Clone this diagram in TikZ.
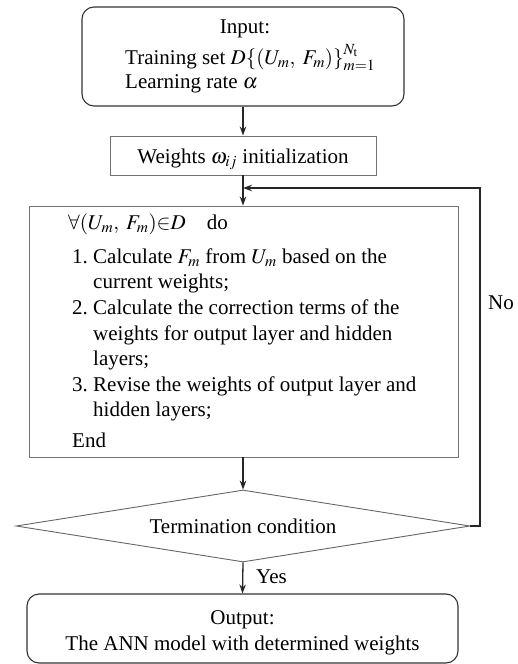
\documentclass[tikz,border=0pt]{standalone}
\usepackage{mathptmx}
\usepackage{fontspec}
\setmainfont{Liberation Serif}
\usetikzlibrary{arrows.meta,shapes.geometric}
\tikzset{
  rbox/.style={draw=black!80,line width=1.1pt,rounded corners=12pt,inner sep=0pt},
  gbox/.style={draw=black!55,line width=0.9pt,inner sep=0pt},
  cond/.style={draw=black!60,line width=0.9pt,diamond,inner sep=0pt},
  txt/.style={inner sep=0pt,font=\fontsize{21}{25}\selectfont},
  arr/.style={draw=black!85,line width=1.3pt,-{Stealth[length=9pt,width=6.5pt]}},
}
\begin{document}
\begin{tikzpicture}[x=1pt,y=-1pt]
\useasboundingbox (0,0) rectangle (517,664);
% boxes
\node[rbox,minimum width=322pt,minimum height=99pt] (input) at (243,56.5) {};
\node[gbox,minimum width=266pt,minimum height=39pt] (weights) at (243,155.5) {};
\node[gbox,minimum width=429pt,minimum height=251pt] (loopbox) at (243.5,331.5) {};
\node[cond,minimum width=454pt,minimum height=72pt] (term) at (243,526) {};
\node[rbox,minimum width=431pt,minimum height=69pt] (output) at (242.5,628.5) {};
% input text
\node[txt,anchor=base] (t1) at (245,33) {Input:};
\node[txt,anchor=base west] (t2) at (125,64) {Training set $D\{(U_m,\;F_m)\}_{m=1}^{N_{\mathrm{t}}}$};
\node[txt,anchor=base west] (t3) at (125,88) {Learning rate $\alpha$};
% weights
\node[txt,anchor=base] (t4) at (243,163) {Weights $\omega_{ij}$ initialization};
% loop body
\node[txt,anchor=base west] (l0) at (68,229) {$\forall(U_m,\;F_m){\in}D$\quad do};
\node[txt,anchor=base west] (l1) at (72,263) {1.};
\node[txt,anchor=base west] (l1a) at (93,263) {Calculate $F_m$ from $U_m$ based on the};
\node[txt,anchor=base west] (l1b) at (93,288) {current weights;};
\node[txt,anchor=base west] (l2) at (72,314) {2.};
\node[txt,anchor=base west] (l2a) at (93,314) {Calculate the correction terms of the};
\node[txt,anchor=base west] (l2b) at (93,340) {weights for output layer and hidden};
\node[txt,anchor=base west] (l2c) at (93,365) {layers;};
\node[txt,anchor=base west] (l3) at (72,391) {3.};
\node[txt,anchor=base west] (l3a) at (93,391) {Revise the weights of output layer and};
\node[txt,anchor=base west] (l3b) at (93,416) {hidden layers;};
\node[txt,anchor=base west] (l4) at (72,447) {End};
% condition
\node[txt,anchor=base] (t5) at (243,533) {Termination condition};
% output
\node[txt,anchor=base] (t6) at (242.5,624) {Output:};
\node[txt,anchor=base] (t7) at (242.5,650) {The ANN model with determined weights};
% connectors
\coordinate (loopin) at (243,188);
\coordinate (fbcorner) at (480,188);
\draw[arr] (input.south) -- (weights.north);
\draw[arr] (weights.south) -- (weights.south |- loopbox.north);
\draw[arr] (loopbox.south -| term.north) -- (term.north);
\draw[arr] (term.south) -- (output.north);
\draw[arr] (term.east) -| (fbcorner) -- (loopin);
\node[txt,anchor=base west] (no) at (488,309) {No};
\node[txt,anchor=base west] (yes) at (256,583) {Yes};
\end{tikzpicture}
\end{document}
